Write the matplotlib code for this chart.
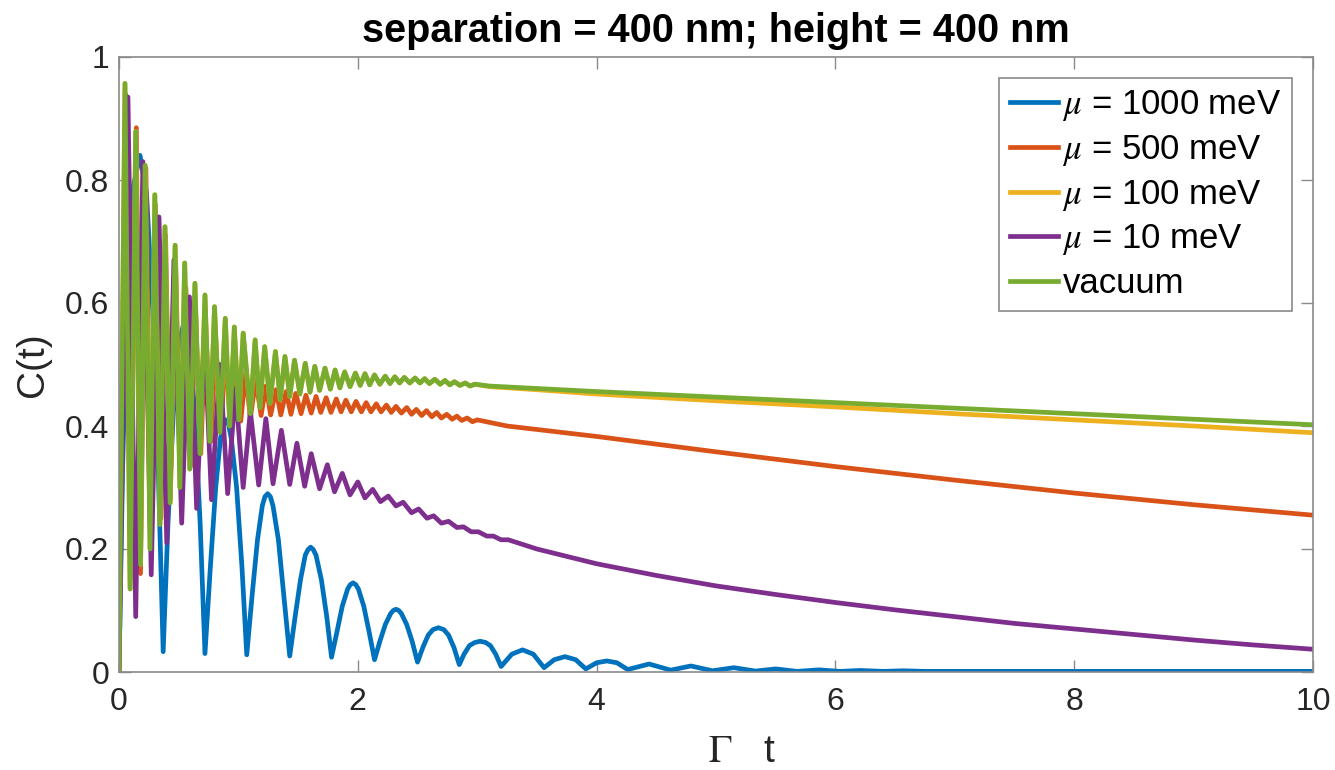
import matplotlib
matplotlib.use("Agg")
import matplotlib.pyplot as plt

plt.rcParams['font.family'] = ['Liberation Sans', 'DejaVu Sans']
plt.rcParams['mathtext.fontset'] = 'stix'

# ---- data (t = Gamma*t, C) ----
t_blue = [0, 0.03, 0.07, 0.12, 0.176, 0.23, 0.28, 0.33, 0.37,
          0.41, 0.455, 0.50, 0.545, 0.59, 0.635, 0.68, 0.72,
          0.765, 0.81, 0.85, 0.872, 0.895, 0.918, 0.94, 0.985, 1.03, 1.07,
          1.115, 1.16, 1.20, 1.222, 1.245, 1.268, 1.29, 1.335, 1.38, 1.43,
          1.475, 1.52, 1.56, 1.583, 1.605, 1.627, 1.65, 1.695, 1.74, 1.78,
          1.825, 1.87, 1.915, 1.937, 1.96, 1.983, 2.005, 2.05, 2.095, 2.14,
          2.185, 2.23, 2.275, 2.297, 2.32, 2.343, 2.365, 2.41, 2.455, 2.50,
          2.545, 2.59, 2.63, 2.675, 2.72, 2.76, 2.805, 2.85,
          2.89, 2.935, 2.98, 3.025, 3.07, 3.11, 3.155, 3.20,
          3.29, 3.38, 3.47, 3.56, 3.645, 3.735, 3.825, 3.91,
          4.0, 4.085, 4.17, 4.26, 4.44, 4.62, 4.79, 4.97,
          5.15, 5.33, 5.5, 5.68, 5.86, 6.04, 6.21, 6.4, 6.57, 6.75, 7.5, 10]
c_blue = [0, 0.33, 0.62, 0.79, 0.84, 0.78, 0.60, 0.32, 0.033,
          0.24, 0.42, 0.53, 0.57, 0.53, 0.42, 0.24, 0.03,
          0.17, 0.30, 0.38, 0.402, 0.41, 0.402, 0.38, 0.30, 0.17, 0.028,
          0.125, 0.215, 0.27, 0.285, 0.29, 0.285, 0.27, 0.215, 0.125, 0.026,
          0.09, 0.15, 0.19, 0.199, 0.203, 0.199, 0.19, 0.15, 0.09, 0.024,
          0.065, 0.107, 0.135, 0.142, 0.145, 0.142, 0.135, 0.107, 0.065, 0.02,
          0.05, 0.077, 0.095, 0.100, 0.102, 0.100, 0.095, 0.077, 0.05, 0.016,
          0.040, 0.060, 0.069, 0.072, 0.069, 0.060, 0.040, 0.012,
          0.029, 0.043, 0.048, 0.050, 0.048, 0.043, 0.029, 0.009,
          0.029, 0.036, 0.029, 0.007, 0.02, 0.025, 0.02, 0.005,
          0.015, 0.018, 0.015, 0.004, 0.013, 0.003, 0.0098, 0.002,
          0.007, 0.0015, 0.005, 0.001, 0.0035, 0.001, 0.0025, 0.001, 0.002, 0.001, 0.001, 0.001]

t_orange = [0, 0.055, 0.095, 0.145, 0.18, 0.225, 0.265, 0.305, 0.35, 0.39,
            0.43, 0.475, 0.515, 0.56, 0.60, 0.64, 0.685, 0.725, 0.77, 0.81,
            0.85, 0.895, 0.935, 0.975, 1.02, 1.06, 1.10, 1.145, 1.19, 1.23,
            1.27, 1.315, 1.355, 1.40, 1.44, 1.48, 1.525, 1.565, 1.61, 1.65,
            1.69, 1.735, 1.775, 1.82, 1.86, 1.90, 1.945, 1.985, 2.03, 2.07,
            2.11, 2.155, 2.195, 2.24, 2.28, 2.32, 2.365, 2.41, 2.45, 2.49,
            2.535, 2.575, 2.62, 2.66, 2.70, 2.745, 2.79, 2.83, 2.87, 2.915,
            2.96, 3.0, 3.25, 4, 5, 6, 7, 8, 9, 10]
c_orange = [0, 0.94, 0.15, 0.885, 0.16, 0.82, 0.21, 0.76, 0.25, 0.71,
            0.28, 0.665, 0.31, 0.625, 0.335, 0.59, 0.355, 0.565, 0.375, 0.54,
            0.39, 0.52, 0.40, 0.50, 0.408, 0.487, 0.413, 0.475, 0.417, 0.465,
            0.418, 0.459, 0.418, 0.456, 0.419, 0.453, 0.420, 0.450, 0.421, 0.448,
            0.422, 0.446, 0.422, 0.444, 0.423, 0.442, 0.423, 0.440, 0.423, 0.438,
            0.423, 0.436, 0.423, 0.434, 0.422, 0.432, 0.421, 0.430, 0.419, 0.427,
            0.417, 0.425, 0.415, 0.422, 0.413, 0.419, 0.411, 0.416, 0.409, 0.413,
            0.407, 0.410, 0.400, 0.383, 0.358, 0.334, 0.312, 0.291, 0.272, 0.255]

# early oscillations shared by the 100 meV and vacuum curves (they overlap)
t_early = [0, 0.05, 0.093, 0.14, 0.18, 0.218, 0.26, 0.30, 0.343, 0.385,
           0.428, 0.47, 0.51, 0.55, 0.593, 0.636, 0.678, 0.72, 0.76, 0.80,
           0.845, 0.89, 0.928, 0.966, 1.003, 1.04, 1.10, 1.14, 1.18, 1.22,
           1.265, 1.31, 1.35, 1.39, 1.43, 1.47, 1.515, 1.56, 1.60, 1.64,
           1.68, 1.725, 1.77, 1.81, 1.85, 1.89, 1.935, 1.98, 2.02, 2.06,
           2.10, 2.14, 2.185, 2.23, 2.27, 2.31, 2.35, 2.39, 2.435, 2.48,
           2.52, 2.56, 2.60, 2.645, 2.69, 2.73, 2.77, 2.81, 2.855, 2.90,
           2.94, 2.98]
c_early = [0, 0.957, 0.135, 0.879, 0.175, 0.824, 0.20, 0.776, 0.24, 0.724,
           0.275, 0.694, 0.30, 0.665, 0.33, 0.632, 0.355, 0.613, 0.375, 0.594,
           0.39, 0.575, 0.40, 0.561, 0.41, 0.551, 0.42, 0.540, 0.430, 0.529,
           0.437, 0.521, 0.443, 0.513, 0.448, 0.507, 0.452, 0.502, 0.455, 0.497,
           0.458, 0.494, 0.460, 0.491, 0.462, 0.488, 0.464, 0.486, 0.466, 0.485,
           0.467, 0.483, 0.468, 0.481, 0.469, 0.480, 0.470, 0.479, 0.470, 0.478,
           0.470, 0.477, 0.469, 0.476, 0.468, 0.474, 0.467, 0.472, 0.466, 0.470,
           0.465, 0.468]
t_late = [3.1, 3.5, 4, 5, 6, 7, 8, 9, 10]
c_yellow_late = [0.464, 0.459, 0.452, 0.441, 0.431, 0.420, 0.410, 0.400, 0.389]
c_green_late = [0.465, 0.461, 0.456, 0.447, 0.438, 0.429, 0.420, 0.411, 0.402]

t_purple = [0, 0.075, 0.14, 0.20, 0.27, 0.335, 0.40, 0.46, 0.525, 0.59,
            0.65, 0.715, 0.775, 0.845, 0.91, 0.975, 1.04, 1.10, 1.17, 1.23,
            1.29, 1.36, 1.43, 1.49, 1.555, 1.61, 1.68, 1.745, 1.805, 1.87,
            1.935, 2.0, 2.06, 2.125, 2.19, 2.255, 2.32, 2.38, 2.45, 2.51,
            2.58, 2.635, 2.70, 2.76, 2.83, 2.885, 2.95, 3.01, 3.08, 3.135,
            3.20, 3.26, 3.5, 4.0, 4.5, 5.0, 5.5, 6.0, 6.5, 7.0, 7.5, 8.0,
            8.5, 9.0, 9.5, 10]
c_purple = [0, 0.935, 0.09, 0.83, 0.158, 0.74, 0.21, 0.67, 0.242, 0.61,
            0.266, 0.55, 0.28, 0.50, 0.29, 0.46, 0.30, 0.424, 0.304, 0.412,
            0.306, 0.393, 0.305, 0.372, 0.302, 0.355, 0.298, 0.337, 0.293, 0.323,
            0.288, 0.309, 0.283, 0.297, 0.277, 0.286, 0.270, 0.276, 0.259, 0.265,
            0.250, 0.254, 0.242, 0.245, 0.235, 0.236, 0.228, 0.228, 0.221, 0.221,
            0.215, 0.215, 0.200, 0.176, 0.157, 0.140, 0.126, 0.113, 0.101, 0.090,
            0.079, 0.070, 0.061, 0.052, 0.044, 0.037]

labels = [r'$\mu$ = 1000 meV', r'$\mu$ = 500 meV', r'$\mu$ = 100 meV',
          r'$\mu$ = 10 meV', 'vacuum']
colors = ['#0072BD', '#D95319', '#EDB120', '#7E2F8E', '#77AC30']
x_ticks = [0, 2, 4, 6, 8, 10]
y_ticks = [0, 0.2, 0.4, 0.6, 0.8, 1]
y_ticklabels = ['0', '0.2', '0.4', '0.6', '0.8', '1']

series = [
    (t_blue, c_blue),
    (t_orange, c_orange),
    (t_early + t_late, c_early + c_yellow_late),
    (t_purple, c_purple),
    (t_early + t_late, c_early + c_green_late),
]

fig = plt.figure(figsize=(13.35, 7.70), dpi=100)
ax = fig.add_axes([119/1335, 1-672/770, (1313-119)/1335, (672-57)/770])
for (t, c), lab, col in zip(series, labels, colors):
    ax.plot(t, c, color=col, lw=3.4, label=lab, solid_joinstyle='round')

ax.set_xlim(0, 10)
ax.set_ylim(0, 1)
ax.set_xticks(x_ticks)
ax.set_yticks(y_ticks)
ax.set_yticklabels(y_ticklabels)
ax.tick_params(direction='in', length=8.6, width=1.0, color='#8a8a8a',
               labelsize=23, labelcolor='#262626', top=True, right=True)
ax.tick_params(axis='x', pad=11)
ax.tick_params(axis='y', pad=7)
for s in ax.spines.values():
    s.set_color('#8a8a8a')
    s.set_linewidth(1.2)
ax.set_title('separation = 400 nm; height = 400 nm', fontsize=28.5,
             fontweight='bold', pad=11)
ax.set_xlabel(r'$\mathrm{\Gamma}$   t', fontsize=28, color='#262626')
ax.xaxis.set_label_coords(0.522, -0.100)
ax.set_ylabel('C(t)', fontsize=28, labelpad=10, color='#262626')
leg = ax.legend(loc='upper right', fontsize=25, frameon=True, fancybox=False,
                framealpha=1, edgecolor='#8a8a8a', handlelength=1.4,
                handletextpad=0.12, borderpad=0.3, labelspacing=0.28,
                borderaxespad=0.6)
leg.get_frame().set_linewidth(1.2)
fig.savefig('out.png', dpi=100)
